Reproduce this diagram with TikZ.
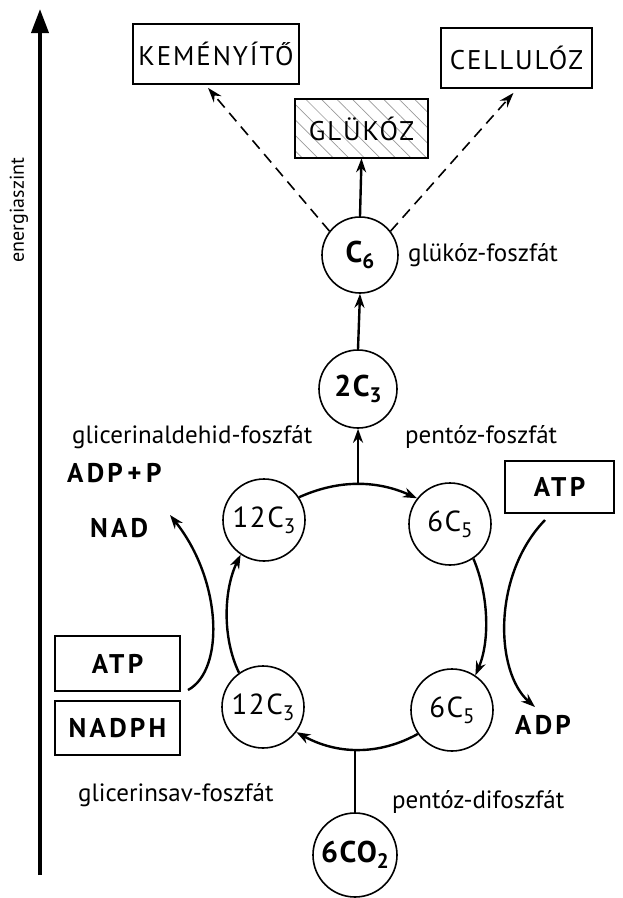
\documentclass[tikz,border=0pt]{standalone}
\usepackage{fontspec}
\setmainfont{PT Sans}
\newfontfamily\capsfont[LetterSpace=7]{PT Sans}
\newfontfamily\boldsp[LetterSpace=12]{PT Sans}
\newfontfamily\circfont[LetterSpace=5]{PT Sans}
\usetikzlibrary{arrows.meta,patterns.meta,calc}
\newcommand\lowsub[1]{\raisebox{-6pt}{\fontsize{21}{21}\selectfont #1}}
\begin{document}
\begin{tikzpicture}[x=1pt,y=-1pt,
  lbl/.style={font=\fontsize{25}{28}\selectfont, inner sep=0pt, anchor=west},
  blbl/.style={font=\fontsize{27}{30}\selectfont\boldsp\bfseries, inner sep=0pt, anchor=west},
  capbox/.style={draw, line width=1.7pt, inner sep=0pt, font=\fontsize{27}{30}\selectfont\capsfont},
  bbox/.style={draw, line width=1.7pt, inner sep=0pt, font=\fontsize{27}{30}\selectfont\boldsp\bfseries},
  circ/.style={draw, circle, line width=1.6pt, inner sep=0pt, font=\fontsize{29}{30}\selectfont\circfont},
  bcirc/.style={circ, font=\fontsize{30}{30}\selectfont\circfont\bfseries},
  arr/.style={line width=2.4pt, -{Stealth[length=14pt,width=10pt]}},
  darr/.style={line width=1.6pt, dash pattern=on 11pt off 7pt, -{Stealth[length=15pt,width=10pt]}},
  ln/.style={line width=2.4pt}
]
\useasboundingbox (0,0) rectangle (622,898);

% energy axis
\coordinate (axb) at (40,875);
\coordinate (axt) at (40,9);
\draw[line width=3.8pt, -{Triangle[length=24pt,width=17pt]}] (axb) -- (axt);
\node[font=\fontsize{20}{22}\selectfont, rotate=90, inner sep=0pt] (axlbl) at (19,210) {energiaszint};

% boxes
\node[capbox, minimum width=166pt, minimum height=60pt] (kem) at (216,54) {KEMÉNYÍTŐ};
\node[capbox, minimum width=151pt, minimum height=60pt] (cell) at (516.5,58) {CELLULÓZ};
\node[capbox, minimum width=133pt, minimum height=59pt,
      pattern={Lines[angle=-45,distance=11pt,line width=0.7pt]}, pattern color=gray!80] (glu) at (361.5,128.5) {GLÜKÓZ};
\node[bbox, minimum width=109pt, minimum height=52pt] (atpR) at (559.5,487) {ATP};
\node[bbox, minimum width=125pt, minimum height=55pt] (atpL) at (117.5,663.5) {ATP};
\node[bbox, minimum width=125pt, minimum height=54pt] (nadph) at (117.5,728) {NADPH};

% circles
\node[bcirc, minimum size=76pt] (c6) at (360,255) {C\lowsub{6}};
\node[bcirc, minimum size=78pt] (c23) at (358,389) {2C\lowsub{3}};
\node[circ, minimum size=82pt] (u12) at (264,520) {12C\lowsub{3}};
\node[circ, minimum size=82pt] (u6) at (450,524) {6C\lowsub{5}};
\node[circ, minimum size=82pt] (l12) at (263,707) {12C\lowsub{3}};
\node[circ, minimum size=82pt] (l6) at (452,710) {6C\lowsub{5}};
\node[bcirc, minimum size=84pt] (co2) at (355,855) {6CO\lowsub{2}};

% labels
\node[lbl] (gluf) at (408,255) {glükóz-foszfát};
\node[lbl] (gald) at (72,437) {glicerinaldehid-foszfát};
\node[lbl] (pentf) at (405,437) {pentóz-foszfát};
\node[blbl] (adpp) at (67,473) {ADP\,+\,P};
\node[blbl] (nad) at (90,528) {NAD};
\node[blbl] (adp) at (515,725) {ADP};
\node[lbl] (gsav) at (78,795) {glicerinsav-foszfát};
\node[lbl] (pdif) at (392,802) {pentóz-difoszfát};

% top connectors
\draw[arr] (c6.north) -- (glu.south);
\draw[darr] (c6.142) -- ([xshift=-8pt,yshift=-3pt]kem.south);
\draw[darr] (c6.38) -- ([xshift=-3pt,yshift=-4pt]cell.south);
\draw[arr] (c23.north) -- (c6.south);

% cycle
\draw[arr] (u12.33) .. controls +(40,-18) and +(-40,-18) .. coordinate[pos=0.5] (j1) (u6.142);
\draw[arr] (j1) -- (j1 |- c23.south);
\draw[arr] (u6.-56) .. controls +(15,35) and +(15,-35) .. (l6.56);
\draw[arr] (l6.215) .. controls +(-40,22) and +(40,22) .. coordinate[pos=0.5] (j2) (l12.-37);
\draw[ln] (co2.north) -- (co2.north |- j2);
\draw[arr] (l12.125) .. controls +(-17,-35) and +(-17,35) .. (u12.236);

% side reactions
\coordinate (nadtip) at (170,515);
\coordinate (atpLst) at (188,690);
\draw[arr] (atpLst) .. controls (225,670) and (222,580) .. (nadtip);
\coordinate (atpRst) at (545,520);
\coordinate (adptip) at (535,707);
\draw[arr] (atpRst) .. controls (492,575) and (495,672) .. (adptip);
\end{tikzpicture}
\end{document}
